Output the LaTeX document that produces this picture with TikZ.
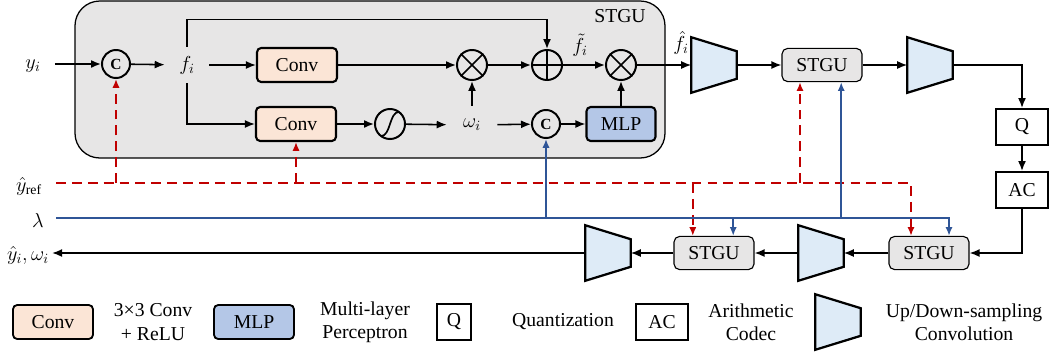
\documentclass[tikz,border=0pt]{standalone}
\usepackage{fontspec}
\setmainfont{Liberation Serif}
\usetikzlibrary{arrows.meta}

\definecolor{convfill}{HTML}{FBE5D6}
\definecolor{mlpfill}{HTML}{B4C7E7}
\definecolor{trapfill}{HTML}{DEEBF7}
\definecolor{unitgray}{HTML}{E7E6E6}
\definecolor{refred}{HTML}{C00000}
\definecolor{lamblue}{HTML}{2F5597}

\tikzset{
  convbox/.style={draw, line width=1.5pt, rounded corners=3pt, fill=convfill,
    minimum width=2cm, minimum height=0.85cm, inner sep=0pt},
  mlpbox/.style={convbox, fill=mlpfill, minimum width=1.725cm},
  stgubox/.style={draw, line width=0.8pt, rounded corners=4pt, fill=unitgray,
    minimum width=2cm, minimum height=0.83cm, inner sep=0pt},
  codebox/.style={draw, line width=1.4pt, minimum width=1.3cm, minimum height=0.9cm, inner sep=0pt},
  opcirc/.style={draw, circle, line width=1.4pt, minimum size=0.75cm, inner sep=0pt},
  catcirc/.style={opcirc, minimum size=0.7cm, font=\fontsize{11}{12}\selectfont\bfseries},
  trapnode/.style={minimum width=1.125cm, minimum height=1.375cm, inner sep=0pt},
  trapline/.style={draw, line width=1.6pt, fill=trapfill, line join=miter},
  arr/.style={-{Latex[length=2.5mm,width=2mm]}, line width=1.1pt},
  refarr/.style={-{Latex[length=2.2mm,width=1.8mm]}, refred, line width=1.2pt,
    dash pattern=on 7pt off 4.3pt},
  lamarr/.style={-{Latex[length=2.2mm,width=1.8mm]}, lamblue, line width=1.2pt},
}
\newcommand\drawtrap[1]{\path[trapline] (#1.north west) -- (#1.south west)
  -- ([yshift=0.35cm]#1.south east) -- ([yshift=-0.35cm]#1.north east) -- cycle;}

\begin{document}
\begin{tikzpicture}[x=0.025cm, y=-0.025cm, font=\fontsize{14}{16.5}\selectfont]
  \useasboundingbox (0,0) rectangle (1050,358);
  \draw[fill=unitgray, line width=0.9pt, rounded corners=0.62cm] (75,1) rectangle (665,158);
  \node (stgu) at (620,16) {STGU};

  \node[inner xsep=10pt] (yi) at (33,66) {$y_i$};
  \node[catcirc] (c1) at (116,64) {C};
  \node[minimum width=1.1cm, minimum height=0.9cm, inner sep=0pt] (fi) at (187,65) {$f_i$};
  \node[convbox] (conv1) at (297,65) {Conv};
  \node[convbox] (conv2) at (296,124) {Conv};
  \node[opcirc] (m1) at (472,65) {};
  \node[opcirc] (plus) at (547,65) {};
  \node[opcirc] (m2) at (621,65) {};
  \node[inner sep=0pt] (ft) at (580,45) {$\tilde{f}_i$};
  \node[inner sep=0pt] (fh) at (681,43) {$\hat{f}_i$};
  \node[opcirc] (sg) at (390,124) {};
  \node[minimum width=1.25cm, minimum height=0.95cm, inner sep=0pt] (wi) at (472,125) {$\omega_i$};
  \node[catcirc] (c2) at (546,124) {C};
  \node[mlpbox] (mlp) at (621,124) {MLP};

  \draw[line width=1.2pt] (m1.north west) -- (m1.south east) (m1.north east) -- (m1.south west);
  \draw[line width=1.2pt] (m2.north west) -- (m2.south east) (m2.north east) -- (m2.south west);
  \draw[line width=1.2pt] (plus.north) -- (plus.south) (plus.west) -- (plus.east);
  \draw[line width=1.2pt] ([shift={(-0.22cm,-0.3cm)}]sg.center)
    .. controls ([shift={(0.02cm,-0.3cm)}]sg.center) and ([shift={(-0.02cm,0.3cm)}]sg.center)
    .. ([shift={(0.22cm,0.3cm)}]sg.center);

  \node[trapnode] (t1) at (714,65) {};
  \node[stgubox] (stgu2) at (822,65) {STGU};
  \node[trapnode] (t2) at (930,65) {};
  \node[codebox] (q) at (1022,127) {Q};
  \node[codebox] (ac) at (1022,190) {AC};
  \node[stgubox] (stgu3) at (929,253) {STGU};
  \node[trapnode] (t3) at (821,253) {};
  \node[stgubox] (stgu4) at (714,253) {STGU};
  \node[trapnode] (t4) at (608,253) {};
  \drawtrap{t1}
  \drawtrap{t2}
  \drawtrap{t3}
  \drawtrap{t4}

  \node (ref) at (29,186) {$\hat{y}_{\mathrm{ref}}$};
  \node (lam) at (38,220) {$\lambda$};
  \node[inner xsep=2pt] (out) at (28,255) {$\hat{y}_i,\omega_i$};

  \draw[arr] (yi.east |- c1) -- (c1);
  \draw[arr] (c1) -- (fi);
  \draw[arr] (fi) -- (conv1);
  \draw[arr] (fi.north) -- ++(0,-27) -| (plus.north);
  \draw[arr] (fi.south) |- (conv2.west);
  \draw[arr] (conv1) -- (m1);
  \draw[arr] (m1) -- (plus);
  \draw[arr] (plus) -- (m2);
  \draw[arr] (m2) -- (t1.west);
  \draw[arr] (conv2) -- (sg);
  \draw[arr] (sg) -- (wi);
  \draw[arr] (wi) -- (m1);
  \draw[arr] (wi) -- (c2);
  \draw[arr] (c2) -- (mlp);
  \draw[arr] (mlp) -- (m2);
  \draw[arr] (t1.east) -- (stgu2);
  \draw[arr] (stgu2) -- (t2.west);
  \draw[arr] (t2.east) -| (q.north);
  \draw[arr] (q) -- (ac);
  \draw[arr] (ac.south) |- (stgu3.east);
  \draw[arr] (stgu3) -- (t3.east);
  \draw[arr] (t3.west) -- (stgu4);
  \draw[arr] (stgu4) -- (t4.east);
  \draw[arr] (t4.west) -- (t4.west -| out.east);

  \coordinate (rS) at (56,183);
  \coordinate (lS) at (56,218);
  \coordinate (r2) at ([xshift=-0.55cm]stgu2.south);
  \coordinate (r3) at ([xshift=-0.45cm]stgu3.north);
  \coordinate (r4) at ([xshift=-0.53cm]stgu4.north);
  \coordinate (b2) at ([xshift=0.48cm]stgu2.south);
  \coordinate (b3) at ([xshift=0.5cm]stgu3.north);
  \coordinate (b4) at ([xshift=0.48cm]stgu4.north);
  \begin{scope}
    \draw[refarr] (rS) -| (r3);
    \draw[refarr] (c1 |- rS) -- (c1);
    \draw[refarr] (conv2 |- rS) -- (conv2);
    \draw[refarr] (rS -| r2) -- (r2);
    \draw[refarr] (rS -| r4) -- (r4);
  \end{scope}
  \begin{scope}
    \draw[lamarr] (lS) -| (b3);
    \draw[lamarr] (c2 |- lS) -- (c2);
    \draw[lamarr] (lS -| b2) -- (b2);
    \draw[lamarr] (lS -| b4) -- (b4);
  \end{scope}

  \node[convbox, line width=1.3pt] (lconv) at (53,322) {Conv};
  \node[align=center] (tconv) at (153,322) {3×3 Conv\\+ ReLU};
  \node[mlpbox, minimum width=2cm, line width=1.3pt] (lmlp) at (254,322) {MLP};
  \node[align=center] (tmlp) at (365,322) {Multi-layer\\Perceptron};
  \node[codebox, minimum width=0.83cm, minimum height=0.88cm] (lq) at (454,322) {Q};
  \node (tq) at (563,322) {Quantization};
  \node[codebox, minimum width=1.28cm, minimum height=0.88cm] (lac) at (662,322) {AC};
  \node[align=center] (tac) at (751,322) {Arithmetic\\Codec};
  \node[trapnode] (ltrap) at (838,322) {};
  \drawtrap{ltrap}
  \node[align=center] (ttrap) at (964,322) {Up/Down-sampling\\Convolution};
\end{tikzpicture}
\end{document}
